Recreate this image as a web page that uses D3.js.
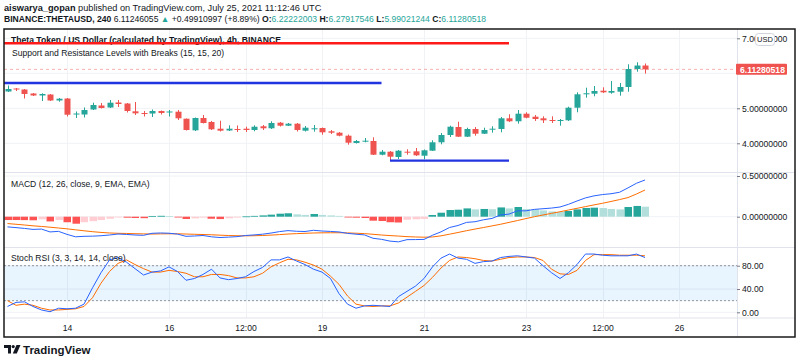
<!DOCTYPE html>
<html>
<head>
<meta charset="utf-8">
<script src="https://cdn.jsdelivr.net/npm/d3@7"></script>
<style>
  body { margin: 0; background: #fff; }
  svg { display: block; }
  text { font-family: "Liberation Sans", Arial, sans-serif; fill: #131722; }
</style>
</head>
<body>
<svg id="chart" width="800" height="362"></svg>
<script>
// 4h bars, THETA/USD
const barTimes = [
  "2021-07-12 20:00",
  "2021-07-13 00:00","2021-07-13 04:00","2021-07-13 08:00","2021-07-13 12:00","2021-07-13 16:00","2021-07-13 20:00",
  "2021-07-14 00:00","2021-07-14 04:00","2021-07-14 08:00","2021-07-14 12:00","2021-07-14 16:00","2021-07-14 20:00",
  "2021-07-15 00:00","2021-07-15 04:00","2021-07-15 08:00","2021-07-15 12:00","2021-07-15 16:00","2021-07-15 20:00",
  "2021-07-16 00:00","2021-07-16 04:00","2021-07-16 08:00","2021-07-16 12:00","2021-07-16 16:00","2021-07-16 20:00",
  "2021-07-17 00:00","2021-07-17 04:00","2021-07-17 08:00","2021-07-17 12:00","2021-07-17 16:00","2021-07-17 20:00",
  "2021-07-18 00:00","2021-07-18 04:00","2021-07-18 08:00","2021-07-18 12:00","2021-07-18 16:00","2021-07-18 20:00",
  "2021-07-19 00:00","2021-07-19 04:00","2021-07-19 08:00","2021-07-19 12:00","2021-07-19 16:00","2021-07-19 20:00",
  "2021-07-20 00:00","2021-07-20 04:00","2021-07-20 08:00","2021-07-20 12:00","2021-07-20 16:00","2021-07-20 20:00",
  "2021-07-21 00:00","2021-07-21 04:00","2021-07-21 08:00","2021-07-21 12:00","2021-07-21 16:00","2021-07-21 20:00",
  "2021-07-22 00:00","2021-07-22 04:00","2021-07-22 08:00","2021-07-22 12:00","2021-07-22 16:00","2021-07-22 20:00",
  "2021-07-23 00:00","2021-07-23 04:00","2021-07-23 08:00","2021-07-23 12:00","2021-07-23 16:00","2021-07-23 20:00",
  "2021-07-24 00:00","2021-07-24 04:00","2021-07-24 08:00","2021-07-24 12:00","2021-07-24 16:00","2021-07-24 20:00",
  "2021-07-25 00:00","2021-07-25 04:00","2021-07-25 08:00"
];

const openP = [5.480,5.566,5.537,5.423,5.366,5.394,5.223,5.280,4.837,4.823,
  4.966,5.080,5.023,5.166,5.137,4.914,4.866,4.851,4.923,4.880,
  4.903,4.703,4.371,4.723,4.609,4.417,4.366,4.409,4.417,4.380,
  4.486,4.429,4.589,4.503,4.560,4.360,4.400,4.437,4.343,4.303,
  4.217,4.009,4.049,4.066,3.674,3.760,3.609,3.760,3.771,3.646,
  3.789,4.029,4.237,4.466,4.189,4.409,4.274,4.389,4.409,4.714,
  4.629,4.846,4.760,4.714,4.666,4.646,4.657,5.017,5.400,5.417,
  5.503,5.446,5.474,5.609,6.123,6.2222];
const highP = [5.651,5.580,5.551,5.437,5.429,5.409,5.294,5.294,4.909,5.023,
  5.160,5.151,5.237,5.237,5.151,5.180,4.923,4.966,4.937,4.951,
  4.951,4.709,4.737,4.809,4.637,4.646,4.514,4.509,4.474,4.514,
  4.523,4.629,4.609,4.580,4.580,4.494,4.523,4.451,4.380,4.323,
  4.251,4.094,4.151,4.171,3.809,3.780,3.809,3.829,3.866,3.823,
  4.086,4.294,4.503,4.617,4.446,4.466,4.446,4.486,4.751,4.829,
  4.951,4.886,4.809,4.771,4.771,4.694,5.046,5.457,5.589,5.637,
  5.600,5.780,5.723,6.257,6.314,6.2792];
const lowP = [5.466,5.494,5.280,5.351,5.209,5.209,5.189,4.766,4.723,4.737,
  4.951,4.994,5.009,5.037,4.880,4.809,4.766,4.751,4.823,4.766,
  4.666,4.366,4.351,4.566,4.380,4.337,4.351,4.323,4.323,4.343,
  4.380,4.409,4.480,4.494,4.337,4.337,4.332,4.246,4.266,4.200,
  3.960,3.994,4.029,3.666,3.657,3.523,3.551,3.674,3.637,3.543,
  3.780,3.971,4.180,4.180,4.180,4.217,4.266,4.303,4.314,4.609,
  4.560,4.714,4.637,4.580,4.580,4.503,4.637,4.886,5.303,5.343,
  5.437,5.417,5.360,5.474,6.046,5.9902];
const closeP = [5.551,5.537,5.409,5.366,5.409,5.223,5.274,4.817,4.851,4.951,
  5.094,5.009,5.160,5.123,4.923,4.857,4.846,4.923,4.866,4.909,
  4.714,4.380,4.723,4.580,4.400,4.360,4.417,4.389,4.380,4.474,
  4.429,4.580,4.503,4.560,4.380,4.446,4.429,4.314,4.303,4.217,
  4.017,4.066,4.074,3.674,3.760,3.617,3.789,3.743,3.657,3.800,
  4.029,4.237,4.474,4.189,4.409,4.274,4.380,4.417,4.714,4.629,
  4.846,4.731,4.694,4.657,4.646,4.666,5.017,5.400,5.429,5.494,
  5.457,5.494,5.609,6.123,6.2222,6.1128];

// support / resistance levels: price, from, to
const srPrice = [6.857, 5.725, 3.505];
const srFrom = ["2021-07-12 00:00", "2021-07-12 00:00", "2021-07-20 08:00"];
const srTo = ["2021-07-22 16:00", "2021-07-20 04:00", "2021-07-22 16:00"];
const srColor = ["#ff1a1a", "#2233e0", "#2233e0"];

const macdLine = [-0.125,-0.134,-0.144,-0.156,-0.152,-0.187,-0.180,-0.217,-0.247,-0.241,
  -0.239,-0.234,-0.225,-0.213,-0.218,-0.225,-0.229,-0.204,-0.200,-0.203,
  -0.214,-0.241,-0.237,-0.231,-0.247,-0.256,-0.251,-0.245,-0.231,-0.224,
  -0.215,-0.201,-0.183,-0.171,-0.179,-0.182,-0.167,-0.176,-0.181,-0.187,
  -0.205,-0.215,-0.224,-0.265,-0.278,-0.300,-0.309,-0.282,-0.281,-0.279,
  -0.228,-0.186,-0.133,-0.108,-0.070,-0.062,-0.038,-0.021,0.021,0.032,
  0.072,0.072,0.090,0.098,0.106,0.119,0.152,0.193,0.231,0.256,
  0.272,0.282,0.300,0.354,0.411,0.451];
const signalLine = [-0.084,-0.093,-0.102,-0.112,-0.120,-0.129,-0.139,-0.149,-0.161,-0.173,
  -0.184,-0.193,-0.200,-0.204,-0.206,-0.209,-0.211,-0.213,-0.211,-0.210,
  -0.210,-0.213,-0.216,-0.219,-0.222,-0.227,-0.231,-0.234,-0.235,-0.234,
  -0.231,-0.226,-0.220,-0.213,-0.208,-0.204,-0.200,-0.198,-0.197,-0.197,
  -0.199,-0.203,-0.208,-0.216,-0.225,-0.232,-0.238,-0.245,-0.249,-0.252,
  -0.249,-0.235,-0.215,-0.194,-0.172,-0.152,-0.133,-0.113,-0.093,-0.070,
  -0.047,-0.023,0.000,0.021,0.041,0.061,0.082,0.103,0.124,0.145,
  0.165,0.187,0.210,0.235,0.279,0.328];
const macdHist = [-0.041,-0.041,-0.042,-0.044,-0.032,-0.058,-0.041,-0.068,-0.086,-0.068,
  -0.055,-0.041,-0.025,-0.009,-0.012,-0.016,-0.018,0.009,0.011,0.007,
  -0.004,-0.028,-0.021,-0.012,-0.025,-0.029,-0.020,-0.011,0.004,0.010,
  0.016,0.025,0.037,0.042,0.029,0.022,0.033,0.022,0.016,0.010,
  -0.006,-0.012,-0.016,-0.049,-0.053,-0.068,-0.071,-0.037,-0.032,-0.027,
  0.021,0.049,0.082,0.086,0.102,0.090,0.095,0.092,0.114,0.102,
  0.119,0.095,0.090,0.077,0.065,0.058,0.070,0.090,0.107,0.111,
  0.107,0.095,0.090,0.119,0.132,0.123];

const stochK = [10,17,18,10,4,1,7,6,7,14,
  42,68,90,94,86,75,64,69,71,78,
  70,55,58,65,74,59,56,58,61,70,
  77,90,90,95,88,82,74,69,58,32,
  14,7,11,12,11,10,27,36,45,58,
  78,93,100,93,91,84,87,88,94,96,
  97,95,93,80,68,58,68,82,100,100,
  98,97,97,97,100,94];
const stochD = [20,12,14,12,7,4,4,5,6,10,
  25,50,70,84,90,82,75,69,69,72,
  70,67,61,61,65,65,63,59,59,61,
  67,78,85,91,90,86,81,74,62,48,
  28,14,11,10,11,11,16,26,36,46,
  60,76,89,95,94,92,89,88,91,94,
  95,95,94,89,74,66,65,72,89,99,
  99,99,98,98,98,97];

const tickTimes = ["2021-07-14 00:00","2021-07-16 00:00","2021-07-17 12:00","2021-07-19 00:00",
  "2021-07-21 00:00","2021-07-23 00:00","2021-07-24 12:00","2021-07-26 00:00"];
const tickLabels = ["14","16","12:00","19","21","23","12:00","26"];
const priceGrid = [4, 5, 6, 7];
const priceTicks = [4, 5, 7];       // 6.00 sits under the last-price label
const macdTicks = [0, 0.5];
const rsiTicks = [0, 40, 80];
const lastPrice = 6.11280518;

const parse = d3.utcParse("%Y-%m-%d %H:%M");
const times = barTimes.map(parse);

// layout
const L = 4, R = 737, FR = 795;
const priceTop = 29, priceBot = 172.5, macdBot = 247.5, rsiBot = 318, frameBot = 337;

const svg = d3.select("#chart");
svg.append("rect").attr("width", 800).attr("height", 362).attr("fill", "#fff");

const x = d3.scaleUtc()
  .domain([parse("2021-07-14 00:00"), parse("2021-07-26 00:00")])
  .range([67, 679]);
const yP = d3.scaleLinear().domain([4, 7]).range([143.3, 38.3]);
const yM = d3.scaleLinear().domain([0, 0.5]).range([216.7, 176]);
const yR = d3.scaleLinear().domain([0, 100]).range([312.3, 254.05]);

const defs = svg.append("defs");
function clip(id, y0, y1) {
  defs.append("clipPath").attr("id", id)
    .append("rect").attr("x", L).attr("y", y0).attr("width", R - L).attr("height", y1 - y0);
}
clip("cP", priceTop, priceBot);
clip("cM", priceBot, macdBot);
clip("cR", macdBot, rsiBot);

// grid
const grid = svg.append("g").attr("stroke", "#f0f2f6").attr("stroke-width", 1);
grid.selectAll(".vg").data(tickTimes.map(parse)).join("line")
  .attr("x1", d => Math.round(x(d)) + 0.5).attr("x2", d => Math.round(x(d)) + 0.5)
  .attr("y1", priceTop).attr("y2", rsiBot);
grid.selectAll(".hp").data(priceGrid).join("line")
  .attr("x1", L).attr("x2", R).attr("y1", d => yP(d)).attr("y2", d => yP(d));
grid.selectAll(".hm").data(macdTicks).join("line")
  .attr("x1", L).attr("x2", R).attr("y1", d => yM(d)).attr("y2", d => yM(d));
grid.selectAll(".hr").data(rsiTicks).join("line")
  .attr("x1", L).attr("x2", R).attr("y1", d => yR(d)).attr("y2", d => yR(d));

// pane separators
const sep = svg.append("g").attr("stroke", "#e0e3eb").attr("stroke-width", 1);
[priceBot, macdBot, rsiBot].forEach(yy => {
  sep.append("line").attr("x1", L).attr("x2", FR).attr("y1", yy).attr("y2", yy);
});
sep.append("line").attr("x1", R + 0.5).attr("x2", R + 0.5).attr("y1", priceTop).attr("y2", frameBot);

// ---- price pane ----
const gP = svg.append("g").attr("clip-path", "url(#cP)");

// last price line
gP.append("line").attr("x1", L).attr("x2", R)
  .attr("y1", yP(lastPrice)).attr("y2", yP(lastPrice))
  .attr("stroke", "#ef5350").attr("stroke-opacity", 0.45).attr("stroke-dasharray", "3,3");

const bars = times.map((t, i) => ({ t, o: openP[i], h: highP[i], l: lowP[i], c: closeP[i] }));
const col = d => d.c >= d.o ? "#26a69a" : "#ef5350";

gP.selectAll(".wick").data(bars).join("line")
  .attr("x1", d => Math.round(x(d.t)) + 0.5).attr("x2", d => Math.round(x(d.t)) + 0.5)
  .attr("y1", d => yP(d.h)).attr("y2", d => yP(d.l))
  .attr("stroke", col);
gP.selectAll(".body").data(bars).join("rect")
  .attr("x", d => Math.round(x(d.t)) - 2.5)
  .attr("width", 6)
  .attr("y", d => yP(Math.max(d.o, d.c)))
  .attr("height", d => Math.max(1, Math.abs(yP(d.o) - yP(d.c))))
  .attr("fill", col);

// titles
svg.append("text").attr("x", 11).attr("y", 43).attr("font-size", 8.6).attr("font-weight", "bold")
  .text("Theta Token / US Dollar (calculated by TradingView), 4h, BINANCE");
svg.append("text").attr("x", 12).attr("y", 55.5).attr("font-size", 8.6)
  .text("Support and Resistance Levels with Breaks (15, 15, 20)");

// S/R lines
const gS = svg.append("g").attr("clip-path", "url(#cP)");
srPrice.forEach((p, i) => {
  gS.append("line")
    .attr("x1", x(parse(srFrom[i]))).attr("x2", x(parse(srTo[i])))
    .attr("y1", yP(p)).attr("y2", yP(p))
    .attr("stroke", srColor[i]).attr("stroke-width", 2.4);
});

// ---- MACD pane ----
const gM = svg.append("g").attr("clip-path", "url(#cM)");
const histColor = (v, i) => {
  const prev = i > 0 ? macdHist[i - 1] : v;
  if (v >= 0) return prev < v ? "#26a69a" : "#b2dfdb";
  return prev < v ? "#ffcdd2" : "#ff5252";
};
gM.selectAll(".hist").data(macdHist).join("rect")
  .attr("x", (d, i) => Math.round(x(times[i])) - 3.5)
  .attr("width", 7.5)
  .attr("y", d => Math.min(yM(d), yM(0)))
  .attr("height", d => Math.max(0.8, Math.abs(yM(d) - yM(0))))
  .attr("fill", histColor);

const lineM = arr => d3.line().x((d, i) => x(times[i])).y(d => yM(d))(arr);
gM.append("path").attr("d", lineM(signalLine)).attr("fill", "none").attr("stroke", "#ff6d00").attr("stroke-width", 1);
gM.append("path").attr("d", lineM(macdLine)).attr("fill", "none").attr("stroke", "#2962ff").attr("stroke-width", 1);

svg.append("text").attr("x", 11).attr("y", 187).attr("font-size", 8.6)
  .text("MACD (12, 26, close, 9, EMA, EMA)");

// ---- Stoch RSI pane ----
const gR = svg.append("g").attr("clip-path", "url(#cR)");
gR.append("rect").attr("x", L).attr("width", R - L)
  .attr("y", yR(80)).attr("height", yR(20) - yR(80))
  .attr("fill", "#2196f3").attr("fill-opacity", 0.1);
[80, 20].forEach(v => {
  gR.append("line").attr("x1", L).attr("x2", R).attr("y1", yR(v)).attr("y2", yR(v))
    .attr("stroke", "#787b86").attr("stroke-dasharray", "2,2").attr("stroke-width", 0.8);
});
const lineR = arr => d3.line().x((d, i) => x(times[i])).y(d => yR(d))(arr);
gR.append("path").attr("d", lineR(stochD)).attr("fill", "none").attr("stroke", "#ff6d00").attr("stroke-width", 1);
gR.append("path").attr("d", lineR(stochK)).attr("fill", "none").attr("stroke", "#2962ff").attr("stroke-width", 1);

svg.append("text").attr("x", 11).attr("y", 260.5).attr("font-size", 8.6)
  .text("Stoch RSI (3, 3, 14, 14, close)");

// ---- axes ----
function styleAxis(g) {
  g.select(".domain").remove();
  g.selectAll(".tick line").attr("stroke", "#787b86");
  g.selectAll(".tick text").attr("font-size", 8.6).attr("fill", "#131722")
    .attr("font-family", '"Liberation Sans", Arial, sans-serif');
}
svg.append("g").attr("transform", `translate(${R},0)`)
  .call(d3.axisRight(yP).tickValues(priceTicks).tickFormat(d3.format(".8f")).tickSize(3).tickPadding(2))
  .call(styleAxis);
svg.append("g").attr("transform", `translate(${R},0)`)
  .call(d3.axisRight(yM).tickValues(macdTicks).tickFormat(d3.format(".8f")).tickSize(3).tickPadding(2))
  .call(styleAxis);
svg.append("g").attr("transform", `translate(${R},0)`)
  .call(d3.axisRight(yR).tickValues(rsiTicks).tickFormat(d3.format(".2f")).tickSize(3).tickPadding(2))
  .call(styleAxis);
svg.append("g").attr("transform", `translate(0,${rsiBot})`)
  .call(d3.axisBottom(x).tickValues(tickTimes.map(parse)).tickFormat((d, i) => tickLabels[i]).tickSize(0).tickPadding(7))
  .call(styleAxis);

// last price label
const yl = yP(lastPrice);
svg.append("rect").attr("x", R - 1).attr("y", yl - 5.5).attr("width", 51).attr("height", 11)
  .attr("rx", 1).attr("fill", "#ef5350");
svg.append("text").attr("x", R + 3).attr("y", yl + 3.2).attr("font-size", 8.6)
  .attr("font-weight", "bold").style("fill", "#fff").text(lastPrice.toFixed(8));

// USD badge
svg.append("rect").attr("x", 755.5).attr("y", 33.5).attr("width", 19).attr("height", 12)
  .attr("rx", 3).attr("fill", "#fff").attr("stroke", "#d1d4dc");
svg.append("text").attr("x", 765).attr("y", 42.3).attr("font-size", 7.5)
  .attr("text-anchor", "middle").text("USD");

// frame
svg.append("rect").attr("x", L).attr("y", priceTop).attr("width", FR - L).attr("height", frameBot - priceTop)
  .attr("fill", "none").attr("stroke", "#1a1a1a").attr("stroke-width", 1.5);

// header
const h1 = svg.append("text").attr("x", 4).attr("y", 10.5).attr("font-size", 9.2);
h1.append("tspan").attr("font-weight", "bold").text("aiswarya_gopan");
h1.append("tspan").text(" published on TradingView.com, July 25, 2021 11:12:46 UTC");

const teal = "#26a69a";
const h2 = svg.append("text").attr("x", 4).attr("y", 22).attr("font-size", 8.6);
h2.append("tspan").attr("font-weight", "bold").text("BINANCE:THETAUSD, 240");
h2.append("tspan").text(" 6.11246055 ");
h2.append("tspan").style("fill", teal).text("\u25B2");
h2.append("tspan").text(" +0.49910997 (+8.89%) ");
[["O:", "6.22222003"], ["H:", "6.27917546"], ["L:", "5.99021244"], ["C:", "6.11280518"]].forEach(([k, v], i) => {
  h2.append("tspan").attr("font-weight", "bold").text((i ? " " : "") + k);
  h2.append("tspan").style("fill", teal).text(v);
});

// TradingView logo
const logo = svg.append("g").attr("fill", "#131722");
logo.append("path").attr("d", "M4,345 H11 V353.5 H8 V348 H4 Z");
logo.append("circle").attr("cx", 13.2).attr("cy", 346.6).attr("r", 1.6);
logo.append("path").attr("d", "M16.5,345 H20.5 L16.8,353.5 H12.8 Z");
svg.append("text").attr("x", 23).attr("y", 353.5).attr("font-size", 11.5).attr("font-weight", "bold")
  .text("TradingView");
</script>
</body>
</html>
